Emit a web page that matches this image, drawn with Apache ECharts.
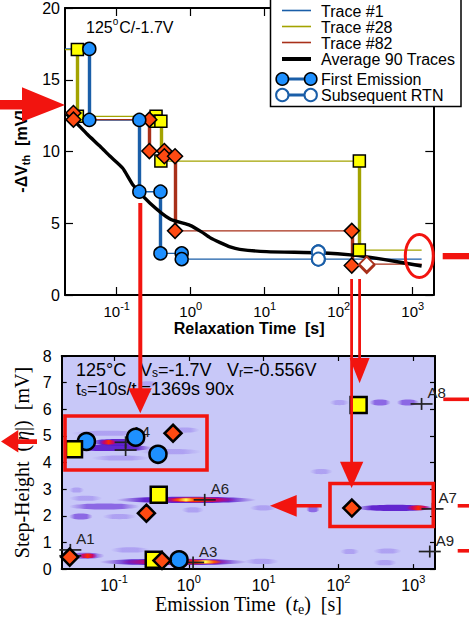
<!DOCTYPE html>
<html><head><meta charset="utf-8">
<script src="https://cdn.jsdelivr.net/npm/echarts@6/dist/echarts.min.js"></script>
<style>html,body{margin:0;padding:0;background:#fff}#c{width:469px;height:617px}</style>
</head><body><div id="c"></div><script>
// ================= DATA =================
const xTickExponents = [-1, 0, 1, 2, 3];
const topYTicks = [0, 5, 10, 15, 20];
const botYTicks = [0, 1, 2, 3, 4, 5, 6, 7, 8];

// ---- top panel: relaxation traces ----
const traceStart = 0.02;
const traceEnd = 1320;
// events: [time s, level before mV, level after mV, 1 = first emission / 0 = subsequent RTN]
const trace1Init = 17.15;
const trace1Events = [[0.0426,17.15,12.2,1],[0.202,12.2,7.2,1],[0.39,7.2,2.9,1],[0.755,2.9,2.5,1],[53,2.5,3.0,0],[53,3.0,2.5,0]];
const trace28Init = 17.1;
const trace28Events = [[0.0294,17.1,12.45,1],[0.34,12.45,12.1,1],[0.395,12.1,9.33,1],[190,9.33,3.13,1]];
const trace82Init = 12.68;
const trace82Events = [[0.026,12.68,12.22,1],[0.276,12.22,10.03,1],[0.44,10.03,9.67,1],[0.614,9.67,4.47,1],[150,4.47,2.05,1],[239,2.05,2.15,0]];
const avgT = [0.021,0.026,0.04,0.06,0.08,0.12,0.167,0.282,0.525,0.98,1.4,1.82,2.5,3.4,4.6,10.6,56,158,400,1320];
const avgV = [12.6,12.2,11.2,10.35,9.7,8.85,7.65,6.4,5.3,4.85,4.4,4.0,3.65,3.35,3.18,3.02,2.94,2.78,2.48,2.02];

// ---- bottom panel: emission time / step height ----
const stepBlue = [[0.0428,4.79],[0.195,4.95],[0.387,4.31],[0.74,0.35]];
const stepYellow = [[0.0292,4.5],[0.34,0.35],[0.396,2.79],[186,6.16]];
const stepRed = [[0.0256,0.45],[0.271,2.1],[0.438,0.32],[0.615,5.1],[151,2.29]];
const clusterNames = ['A1','','A3','A4','','A6','A7','A8','A9'];
const clusterT = [0.0261,0.0261,1.14,0.143,0.143,1.63,1806,1290,1660];
const clusterEta = [0.72,0.5,0.25,4.76,4.47,2.6,2.26,6.2,0.66];
// density streaks: [t start, t end, eta, level 0..4]
const streaks = [
  [0.022,0.075,0.5,1],[0.09,0.3,0.72,0],[0.064,6.0,0.27,2],[0.12,3.9,0.27,3],[0.033,0.06,0.5,3],[1.0,2.8,0.27,4],[5.5,16,0.29,0],
  [0.107,8.0,2.6,2],[0.35,4.5,2.6,3],[0.56,1.5,2.6,4],[0.025,0.07,2.66,0],[0.025,0.22,2.35,1],[0.025,0.052,1.97,1],[0.07,0.2,1.97,0],
  [0.025,0.04,2.97,0],[0.8,1.6,2.22,0],[6.5,15,2.3,0],[37,56,2.25,1],
  [170,1900,2.3,2],[800,1700,2.3,3],
  [76,140,6.25,0],[260,500,6.25,1],[600,1200,6.25,1],
  [105,190,0.66,0],[290,700,0.68,0],[290,600,0.24,0],[41,84,3.66,0],
  [0.047,0.27,4.76,2],[0.064,0.112,4.76,3],[0.026,0.33,4.55,2],[0.027,0.25,5.1,0],[0.22,1.5,4.41,0],[0.56,1.4,5.22,0],[0.05,0.3,4.17,0],[0.2,0.4,6.95,0]
];

// ================= STYLE / HELPERS =================
const SANS = '"Liberation Sans", Arial, Helvetica, sans-serif';
const SERIF = '"Liberation Serif", "Times New Roman", serif';
const NB = '\u00A0';
const L = Math.log10;
const RED = '#f2140f';
const C1 = '#1a5ea8', C28 = '#a3a300', C82 = '#a8301a';

function stepLine(init, events) {
  const pts = [[L(traceStart), init]];
  let cur = init;
  events.forEach(e => { pts.push([L(e[0]), e[1]]); pts.push([L(e[0]), e[2]]); cur = e[2]; });
  pts.push([L(traceEnd), cur]);
  return pts;
}
function segs(events) {
  return events.filter(e => e[3] === 1).map(e => ({coords: [[L(e[0]), e[1]], [L(e[0]), e[2]]]}));
}
function ends(events, first) {
  const out = [];
  events.filter(e => e[3] === first).forEach(e => { out.push([L(e[0]), e[1]]); out.push([L(e[0]), e[2]]); });
  return out;
}
const logPts = arr => arr.map(p => [L(p[0]), p[1]]);

const xLabelRich = (fs) => ({
  b: {fontSize: fs, fontFamily: SANS, color: '#000', lineHeight: fs, verticalAlign: 'bottom'},
  s: {fontSize: Math.round(fs * 0.7), fontFamily: SANS, color: '#000', lineHeight: Math.round(fs * 0.7), padding: [0, 0, Math.round(fs * 0.55), 0], verticalAlign: 'bottom'}
});
const xFmt = v => '{b|10}{s|' + Math.round(v) + '}';

function xAxes(grid, max, tickLen, fs, margin, name, nameStyle, nameGap) {
  return [{
    type: 'value', gridIndex: grid, min: L(traceStart), max: max, position: 'bottom',
    axisLine: {show: true, onZero: false, lineStyle: {color: '#000', width: 2}},
    axisTick: {show: true, inside: true, length: tickLen, customValues: xTickExponents, lineStyle: {color: '#000', width: 1.2}},
    axisLabel: {show: true, customValues: xTickExponents, formatter: xFmt, margin: margin, rich: xLabelRich(fs)},
    splitLine: {show: false},
    name: name, nameLocation: 'middle', nameGap: nameGap, nameTextStyle: nameStyle
  }, {
    type: 'value', gridIndex: grid, min: L(traceStart), max: max, position: 'top',
    axisLine: {show: true, onZero: false, lineStyle: {color: '#000', width: 2}},
    axisTick: {show: true, inside: true, length: tickLen, customValues: xTickExponents, lineStyle: {color: '#000', width: 1.2}},
    axisLabel: {show: false}, splitLine: {show: false}
  }];
}
function yAxes(grid, max, interval, tickLen, fs, margin, name, nameStyle, nameGap) {
  return [{
    type: 'value', gridIndex: grid, min: 0, max: max, interval: interval, position: 'left',
    axisLine: {show: true, onZero: false, lineStyle: {color: '#000', width: 2}},
    axisTick: {show: true, inside: true, length: tickLen, lineStyle: {color: '#000', width: 1.2}},
    axisLabel: {show: true, fontSize: fs, fontFamily: SANS, color: '#000', margin: margin},
    splitLine: {show: false},
    name: name, nameLocation: 'middle', nameGap: nameGap, nameRotate: 90, nameTextStyle: nameStyle
  }, {
    type: 'value', gridIndex: grid, min: 0, max: max, interval: interval, position: 'right',
    axisLine: {show: true, onZero: false, lineStyle: {color: '#000', width: 2}},
    axisTick: {show: true, inside: true, length: tickLen, lineStyle: {color: '#000', width: 1.2}},
    axisLabel: {show: false}, splitLine: {show: false}
  }];
}

const streakStyles = [
  {ry: 2.6, stops: [[0,'rgba(120,80,230,0)'],[0.3,'rgba(120,80,230,0.32)'],[0.7,'rgba(120,80,230,0.32)'],[1,'rgba(120,80,230,0)']]},
  {ry: 3.0, stops: [[0,'rgba(100,40,215,0)'],[0.25,'rgba(100,40,215,0.6)'],[0.75,'rgba(100,40,215,0.6)'],[1,'rgba(100,40,215,0)']]},
  {ry: 3.2, stops: [[0,'rgba(80,10,200,0)'],[0.2,'rgba(80,10,200,0.85)'],[0.8,'rgba(80,10,200,0.85)'],[1,'rgba(80,10,200,0)']]},
  {ry: 2.4, stops: [[0,'rgba(190,0,140,0)'],[0.25,'rgba(210,0,90,0.9)'],[0.5,'#ff2a00'],[0.75,'rgba(210,0,90,0.9)'],[1,'rgba(190,0,140,0)']]},
  {ry: 1.6, stops: [[0,'rgba(255,80,0,0)'],[0.25,'#ff5a00'],[0.5,'#ffff50'],[0.75,'#ff5a00'],[1,'rgba(255,80,0,0)']]}
];

function scatter(xi, yi, data, symbol, size, fill, border, bw, z) {
  return {type: 'scatter', xAxisIndex: xi, yAxisIndex: yi, data: data, symbol: symbol, symbolSize: size, z: z,
    itemStyle: {color: fill, borderColor: border, borderWidth: bw, opacity: 1}, emphasis: {disabled: true}, silent: true};
}

// ================= OPTION =================
const series = [];
// thin traces
[[trace1Init, trace1Events, C1], [trace28Init, trace28Events, C28], [trace82Init, trace82Events, C82]].forEach(([init, ev, c]) => {
  series.push({type: 'line', xAxisIndex: 0, yAxisIndex: 0, data: stepLine(init, ev), showSymbol: false, symbol: 'none',
    lineStyle: {color: c, width: 1.4}, z: 2, silent: true});
});
// thick emission steps
[[trace1Events, C1], [trace28Events, C28], [trace82Events, C82]].forEach(([ev, c]) => {
  series.push({type: 'lines', coordinateSystem: 'cartesian2d', xAxisIndex: 0, yAxisIndex: 0, data: segs(ev),
    lineStyle: {color: c, width: 3.4, opacity: 1}, z: 3, silent: true});
});
// average
series.push({type: 'line', xAxisIndex: 0, yAxisIndex: 0, data: avgT.map((t, i) => [L(t), avgV[i]]), showSymbol: false, symbol: 'none',
  smooth: 0.2, lineStyle: {color: '#000', width: 3.4}, z: 4, silent: true});
// markers top
series.push(scatter(0, 0, ends(trace28Events, 1), 'rect', 12, '#ffff00', '#000', 1.5, 5));
series.push(scatter(0, 0, ends(trace82Events, 1), 'diamond', 15, '#ff4a12', '#000', 1.5, 6));
series.push(scatter(0, 0, ends(trace1Events, 1), 'circle', 13, '#1e90ff', '#000', 1.5, 7));
series.push(scatter(0, 0, ends(trace1Events, 0), 'circle', 13, '#fff', C1, 2, 7));
series.push(scatter(0, 0, ends(trace82Events, 0), 'diamond', 15, '#fff', C82, 2, 7));

// bottom: streaks
series.push({type: 'custom', xAxisIndex: 2, yAxisIndex: 2, clip: true, z: 1, silent: true,
  data: streaks.map(s => [L(s[0]), L(s[1]), s[2], s[3]]),
  encode: {x: [0, 1], y: 2},
  renderItem: (params, api) => {
    const a = api.coord([api.value(0), api.value(2)]);
    const b = api.coord([api.value(1), api.value(2)]);
    const st = streakStyles[api.value(3)];
    return {type: 'ellipse', shape: {cx: (a[0] + b[0]) / 2, cy: a[1], rx: Math.max(1, (b[0] - a[0]) / 2), ry: st.ry},
      style: {fill: new echarts.graphic.LinearGradient(0, 0, 1, 0, st.stops.map(s => ({offset: s[0], color: s[1]})))}};
  }});
// cluster crosses with labels
series.push({type: 'custom', xAxisIndex: 2, yAxisIndex: 2, z: 3, silent: true,
  data: clusterT.map((t, i) => [L(t), clusterEta[i]]),
  encode: {x: 0, y: 1},
  renderItem: (params, api) => {
    const p = api.coord([api.value(0), api.value(1)]);
    const name = clusterNames[params.dataIndex];
    const kids = [
      {type: 'line', shape: {x1: p[0] - 11, y1: p[1], x2: p[0] + 11, y2: p[1]}, style: {stroke: '#222', lineWidth: 1.7}},
      {type: 'line', shape: {x1: p[0], y1: p[1] - 6, x2: p[0], y2: p[1] + 6}, style: {stroke: '#222', lineWidth: 1.7}}
    ];
    if (name) kids.push({type: 'text', x: p[0] + 6, y: p[1] - 11,
      style: {text: name, font: '15px ' + SANS, fontSize: 15, fontFamily: SANS, fill: '#222', verticalAlign: 'middle', align: 'left'}});
    return {type: 'group', children: kids};
  }});
series.push(scatter(2, 2, logPts(stepBlue), 'circle', 17, '#1e90ff', '#000', 2.5, 5));
series.push(scatter(2, 2, logPts(stepYellow), 'rect', 16, '#ffff00', '#000', 2.5, 6));
series.push(scatter(2, 2, logPts(stepRed), 'diamond', 17, '#ff4a12', '#000', 2.5, 7));

const tA = xAxes(0, 3.278, 8, 15, 9, 'Relaxation Time' + NB + NB + '[s]', {fontSize: 16, fontWeight: 'bold', fontFamily: SANS, color: '#000'}, 25);
const tB = xAxes(1, 3.29, 5, 16, 8, '{n|Emission Time' + NB + NB + '(}{i|t}{sb|e}{n|)' + NB + NB + '[s]}', {
  fontSize: 20, fontFamily: SERIF, color: '#000',
  rich: {n: {fontSize: 20, fontFamily: SERIF, color: '#000', lineHeight: 20, verticalAlign: 'top'},
         i: {fontSize: 20, fontFamily: SERIF, fontStyle: 'italic', color: '#000', lineHeight: 20, verticalAlign: 'top'},
         sb: {fontSize: 14, fontFamily: SERIF, color: '#000', lineHeight: 14, padding: [8, 0, 0, 0], verticalAlign: 'top'}}}, 21);
const yA = yAxes(0, 20, 5, 8, 16, 5, '{b|-ΔV}{s|th}{b|' + NB + NB + '[mV]}', {
  fontSize: 16, fontWeight: 'bold', fontFamily: SANS, color: '#000',
  rich: {b: {fontSize: 16, fontWeight: 'bold', fontFamily: SANS, color: '#000', lineHeight: 16, verticalAlign: 'top'},
         s: {fontSize: 11, fontWeight: 'bold', fontFamily: SANS, color: '#000', lineHeight: 11, padding: [7, 0, 0, 0], verticalAlign: 'top'}}}, 28);
const yB = yAxes(1, 8, 1, 5, 16, 10, '{n|Step-Height' + NB + NB + '(|}{i|η}{n||)' + NB + NB + '[mV]}', {
  fontSize: 20, fontFamily: SERIF, color: '#000',
  rich: {n: {fontSize: 20, fontFamily: SERIF, color: '#000'}, i: {fontSize: 20, fontFamily: SERIF, fontStyle: 'italic', color: '#000'}}}, 30);

const txt = (x, y, text, fs, rich, extra) => Object.assign({type: 'text', x: x, y: y, z: 50,
  style: Object.assign({text: text, fontSize: fs, fontFamily: SANS, fill: '#000', verticalAlign: 'middle', align: 'left', rich: rich || {}}, extra || {})});
const subRich = {sb: {fontSize: 12, fontFamily: SANS, fill: '#000', padding: [5, 0, 0, 0], verticalAlign: 'top', lineHeight: 10}};

const graphics = [
  // in-plot condition labels
  txt(86, 27, '125{sup|o}C/-1.7V', 16, {sup: {fontSize: 10, fontFamily: SANS, fill: '#000', padding: [0, 1, 9, 0], verticalAlign: 'bottom', lineHeight: 10}}),
  txt(76, 369.5, '125°C', 18, null, {lineHeight: 15}),
  txt(140, 369.5, 'V{sb|s}=-1.7V', 18, subRich, {lineHeight: 15}),
  txt(227, 369.5, 'V{sb|r}=-0.556V', 18, subRich, {lineHeight: 15}),
  txt(76, 388.5, 't{sb|s}=10s/t{sb|r}=1369s 90x', 18, subRich, {lineHeight: 15}),
  // legend
  {type: 'rect', z: 60, shape: {x: 270.5, y: -1, width: 190.5, height: 107.5}, style: {fill: '#fff', stroke: '#000', lineWidth: 1.5}},
  {type: 'line', z: 61, shape: {x1: 282, y1: 10.5, x2: 311, y2: 10.5}, style: {stroke: C1, lineWidth: 1.6}},
  {type: 'line', z: 61, shape: {x1: 282, y1: 26.5, x2: 311, y2: 26.5}, style: {stroke: C28, lineWidth: 1.6}},
  {type: 'line', z: 61, shape: {x1: 282, y1: 42.5, x2: 311, y2: 42.5}, style: {stroke: C82, lineWidth: 1.6}},
  {type: 'line', z: 61, shape: {x1: 282, y1: 59, x2: 311, y2: 59}, style: {stroke: '#000', lineWidth: 4}},
  {type: 'line', z: 61, shape: {x1: 282, y1: 79, x2: 311, y2: 79}, style: {stroke: C1, lineWidth: 3}},
  {type: 'circle', z: 62, shape: {cx: 282.3, cy: 79, r: 6.2}, style: {fill: '#1e90ff', stroke: '#000', lineWidth: 1.5}},
  {type: 'circle', z: 62, shape: {cx: 310.7, cy: 79, r: 6.2}, style: {fill: '#1e90ff', stroke: '#000', lineWidth: 1.5}},
  {type: 'line', z: 61, shape: {x1: 282, y1: 95, x2: 311, y2: 95}, style: {stroke: C1, lineWidth: 3}},
  {type: 'circle', z: 62, shape: {cx: 282.3, cy: 95, r: 6.2}, style: {fill: '#fff', stroke: C1, lineWidth: 2}},
  {type: 'circle', z: 62, shape: {cx: 310.7, cy: 95, r: 6.2}, style: {fill: '#fff', stroke: C1, lineWidth: 2}},
  Object.assign(txt(321, 11, 'Trace #1', 16), {z: 63}),
  Object.assign(txt(321, 27, 'Trace #28', 16), {z: 63}),
  Object.assign(txt(321, 43, 'Trace #82', 16), {z: 63}),
  Object.assign(txt(321, 59.5, 'Average 90 Traces', 16), {z: 63}),
  Object.assign(txt(321, 79.5, 'First Emission', 16), {z: 63}),
  Object.assign(txt(321, 95.5, 'Subsequent RTN', 16), {z: 63}),
  // red annotations
  {type: 'polygon', z: 70, shape: {points: [[0,100],[22,100],[22,87.3],[65,105],[22,121.7],[22,109.5],[0,109.5]]}, style: {fill: RED}},
  {type: 'rect', z: 70, shape: {x: 138.3, y: 203, width: 4, height: 186}, style: {fill: RED}},
  {type: 'polygon', z: 70, shape: {points: [[128.3,388.3],[151.7,388.3],[140.3,413.3]]}, style: {fill: RED}},
  {type: 'rect', z: 70, shape: {x: 350.2, y: 279, width: 2.8, height: 183}, style: {fill: RED}},
  {type: 'polygon', z: 70, shape: {points: [[340,461.7],[363.3,461.7],[351.6,488]]}, style: {fill: RED}},
  {type: 'rect', z: 70, shape: {x: 358.2, y: 279, width: 2.8, height: 80}, style: {fill: RED}},
  {type: 'polygon', z: 70, shape: {points: [[349.6,358],[369.6,358],[359.6,383.3]]}, style: {fill: RED}},
  {type: 'ellipse', z: 70, shape: {cx: 419.3, cy: 256, rx: 14, ry: 21.5}, style: {fill: 'none', stroke: RED, lineWidth: 3}},
  {type: 'rect', z: 70, shape: {x: 442.7, y: 253, width: 26.3, height: 6.3}, style: {fill: RED}},
  {type: 'polygon', z: 70, shape: {points: [[1,441.5],[18.3,430],[18.3,439.3],[37,439.3],[37,444],[18.3,444],[18.3,452.5]]}, style: {fill: RED}},
  {type: 'rect', z: 70, shape: {x: 65, y: 416, width: 142, height: 54}, style: {fill: 'none', stroke: RED, lineWidth: 3.6}},
  {type: 'rect', z: 70, shape: {x: 330, y: 483.5, width: 103.3, height: 43}, style: {fill: 'none', stroke: RED, lineWidth: 3.6}},
  {type: 'polygon', z: 70, shape: {points: [[270,505.8],[296.7,495],[296.7,504],[321.7,504],[321.7,507.6],[296.7,507.6],[296.7,516.7]]}, style: {fill: RED}},
  {type: 'rect', z: 70, shape: {x: 443.3, y: 397.5, width: 25.7, height: 3.6}, style: {fill: RED}},
  {type: 'rect', z: 70, shape: {x: 457.7, y: 504, width: 11.3, height: 3.6}, style: {fill: RED}},
  {type: 'rect', z: 70, shape: {x: 457.7, y: 549, width: 11.3, height: 3.6}, style: {fill: RED}}
];

const option = {
  animation: false,
  backgroundColor: '#fff',
  grid: [
    {left: 65, top: 7, width: 368.3, height: 288, show: false},
    {left: 61.7, top: 356, width: 373.3, height: 213.3, show: true, backgroundColor: 'rgb(200,200,248)', borderWidth: 0}
  ],
  xAxis: [tA[0], tA[1], tB[0], tB[1]],
  yAxis: [yA[0], yA[1], yB[0], yB[1]],
  series: series,
  graphic: {elements: graphics}
};

const chart = echarts.init(document.getElementById('c'), null, {renderer: 'svg', width: 469, height: 617});
chart.setOption(option);
</script></body></html>
